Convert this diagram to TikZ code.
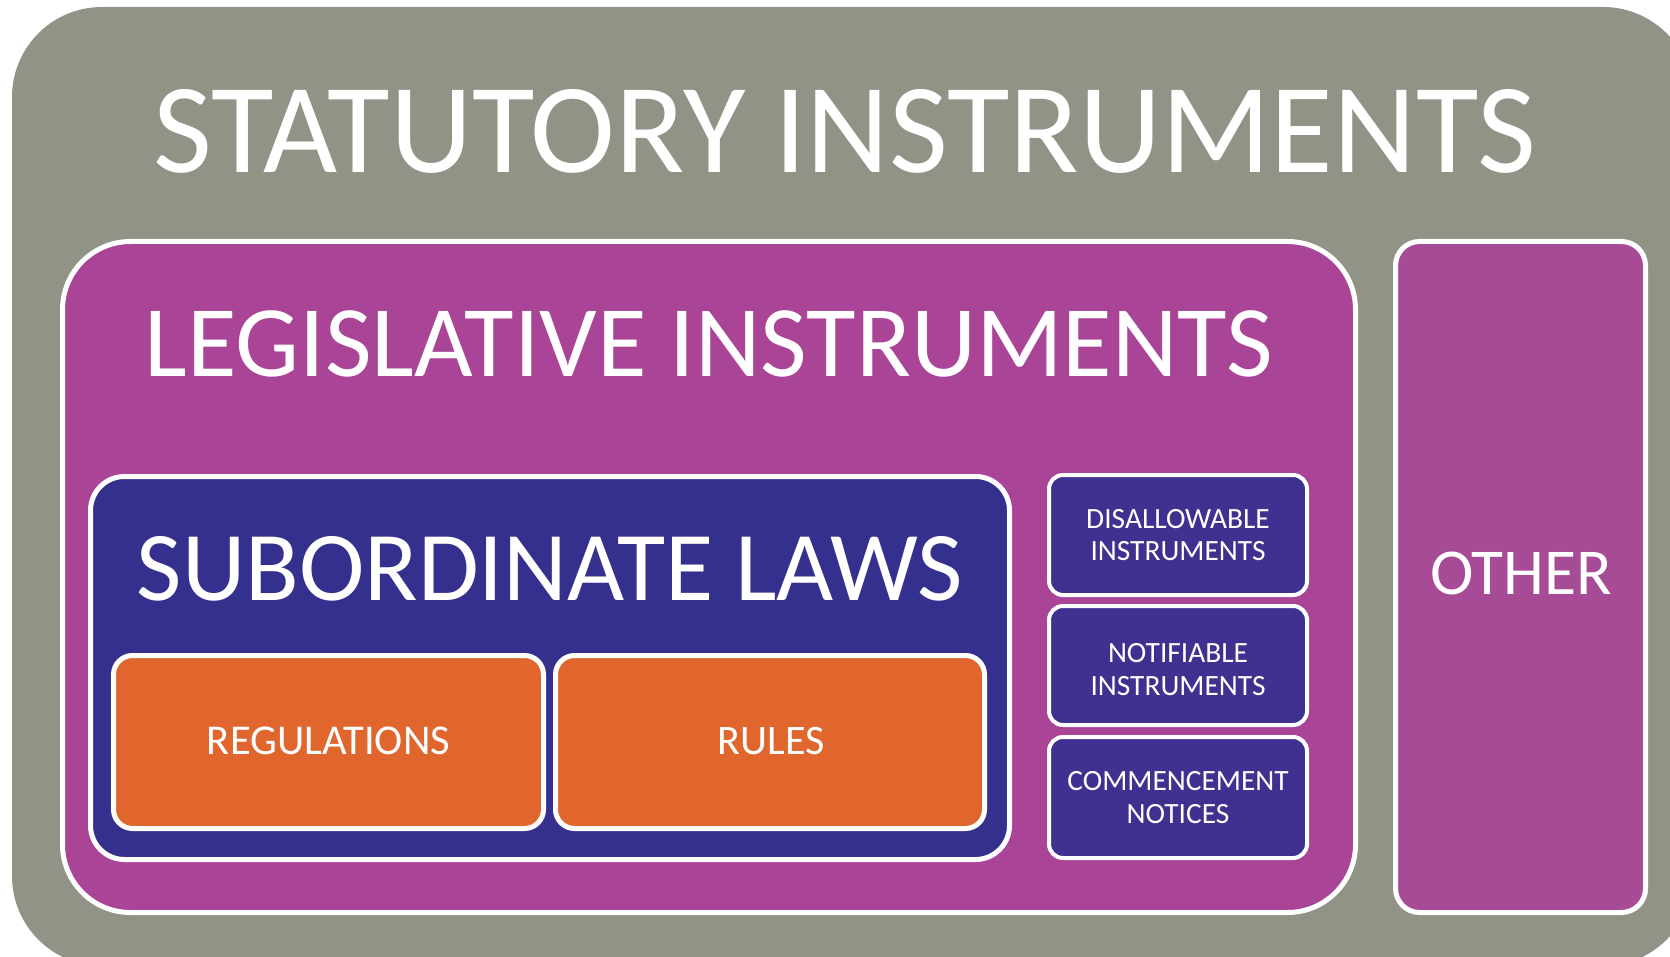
\documentclass[tikz,border=0pt]{standalone}
\usepackage{fontspec}
\setmainfont{Carlito}
\definecolor{siGray}{RGB}{145,147,134}
\definecolor{liPurple}{RGB}{169,68,150}
\definecolor{otPurple}{RGB}{167,75,150}
\definecolor{slNavy}{RGB}{53,48,142}
\definecolor{diNavy}{RGB}{62,49,143}
\definecolor{regOrange}{RGB}{224,102,46}
\tikzset{
  boxbase/.style={draw=white, inner sep=0pt, outer sep=0pt, anchor=north west},
  libox/.style={boxbase, fill=liPurple, line width=5pt, rounded corners=68pt},
  otbox/.style={boxbase, fill=otPurple, line width=5pt, rounded corners=24pt},
  slbox/.style={boxbase, fill=slNavy, line width=5pt, rounded corners=34pt},
  orbox/.style={boxbase, fill=regOrange, line width=5pt, rounded corners=19pt},
  dibox/.style={boxbase, fill=diNavy, line width=4pt, rounded corners=14pt},
  lbl/.style={text=white, inner sep=0pt, anchor=base},
  smalltxt/.style={lbl, font=\fontsize{29.4}{32}\selectfont},
}
\begin{document}
\begin{tikzpicture}[x=1pt,y=-1pt]
\useasboundingbox (0,0) rectangle (1670,957);
\clip (0,0) rectangle (1670,957);
% outer gray
\fill[siGray, rounded corners=90pt] (12,7) rectangle (1693,966);
\node[lbl, font=\fontsize{128}{128}\selectfont] (sitxt) at (845,173) {STATUTORY INSTRUMENTS};
% legislative instruments
\node[libox, minimum width=1293pt, minimum height=671pt] (li) at (62.5,241.5) {};
\node[lbl, font=\fontsize{101.4}{101.4}\selectfont] (litxt) at (709,377) {LEGISLATIVE INSTRUMENTS};
% other
\node[otbox, minimum width=250pt, minimum height=671pt] (ot) at (1395.5,241.5) {};
\node[lbl, font=\fontsize{65.5}{65.5}\selectfont] (ottxt) at (1521,594) {OTHER};
% subordinate laws
\node[slbox, minimum width=919pt, minimum height=383pt] (sl) at (90.5,476.5) {};
\node[lbl, font=\fontsize{98.7}{98.7}\selectfont] (sltxt) at (550,600) {SUBORDINATE LAWS};
% regulations and rules
\node[orbox, minimum width=430pt, minimum height=173pt] (reg) at (113.5,655.5) {};
\node[lbl, font=\fontsize{42.5}{42.5}\selectfont] (regtxt) at (328.5,754) {REGULATIONS};
\node[orbox, minimum width=429pt, minimum height=173pt] (rul) at (555.5,655.5) {};
\node[lbl, font=\fontsize{42}{42}\selectfont] (rultxt) at (771,754) {RULES};
% right column
\node[dibox, minimum width=258pt, minimum height=120pt] (di) at (1049,475) {};
\node[smalltxt] (ditxta) at (1178,528) {DISALLOWABLE};
\node[smalltxt] (ditxtb) at (1178,560) {INSTRUMENTS};
\node[dibox, minimum width=258pt, minimum height=119pt] (ni) at (1049,606) {};
\node[smalltxt] (nitxta) at (1178,662) {NOTIFIABLE};
\node[smalltxt] (nitxtb) at (1178,695) {INSTRUMENTS};
\node[dibox, minimum width=258pt, minimum height=121pt] (cn) at (1049,737) {};
\node[smalltxt] (cntxta) at (1178,790) {COMMENCEMENT};
\node[smalltxt] (cntxtb) at (1178,823) {NOTICES};
\end{tikzpicture}
\end{document}
